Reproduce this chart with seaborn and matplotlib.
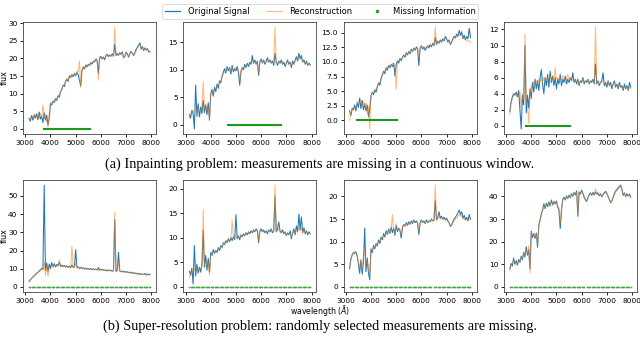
import numpy as np
import pandas as pd
import matplotlib
matplotlib.use("Agg")
import matplotlib.pyplot as plt
from matplotlib.ticker import MultipleLocator
from matplotlib.lines import Line2D
import seaborn as sns

# ---------------- data ----------------
WAVELENGTH = [3150, 3200, 3250, 3300, 3350, 3400, 3450, 3500, 3550, 3600,
              3650, 3700, 3750, 3800, 3850, 3900, 3950, 4000, 4050, 4100,
              4150, 4200, 4250, 4300, 4350, 4400, 4450, 4500, 4550, 4600,
              4650, 4700, 4750, 4800, 4850, 4900, 4950, 5000, 5050, 5100,
              5150, 5200, 5250, 5300, 5350, 5400, 5450, 5500, 5550, 5600,
              5650, 5700, 5750, 5800, 5850, 5900, 5950, 6000, 6050, 6100,
              6150, 6200, 6250, 6300, 6350, 6400, 6450, 6500, 6550, 6600,
              6650, 6700, 6750, 6800, 6850, 6900, 6950, 7000, 7050, 7100,
              7150, 7200, 7250, 7300, 7350, 7400, 7450, 7500, 7550, 7600,
              7650, 7700, 7750, 7800, 7850, 7900, 7950]

# (a) inpainting
P1_ORIG = [3.0, 2.2, 3.8, 2.5, 4.0, 3.1, 4.3, 2.6, 4.8, 2.8, 3.5, 1.8, 4.6, 2.5, 3.9, 1.2, 3.0, 7.2, 6.8, 7.9,
           7.5, 8.6, 8.1, 9.4, 9.0, 10.6, 11.2, 12.4, 12.0, 13.6, 14.1, 13.5, 15.0, 14.6, 15.3, 14.8, 15.6, 15.1, 16.0, 15.4,
           13.8, 12.2, 16.6, 17.5, 17.0, 18.1, 17.6, 18.3, 18.0, 18.8, 18.4, 19.2, 19.0, 19.8, 19.4, 15.8, 20.2, 20.6, 19.8, 20.4,
           19.6, 20.8, 21.2, 20.5, 21.0, 20.6, 21.3, 20.7, 24.0, 20.8, 21.4, 20.9, 21.6, 21.2, 21.9, 20.2, 20.6, 21.8, 21.3, 20.4,
           21.4, 22.0, 21.5, 20.8, 21.6, 22.6, 23.2, 23.8, 24.4, 22.6, 23.4, 22.2, 23.0, 22.4, 22.8, 21.8, 22.0]
P1_RECON = [2.6, 3.2, 3.0, 3.6, 3.2, 4.0, 3.4, 3.9, 3.0, 4.4, 3.2, 6.8, 3.4, 4.0, 2.2, 0.5, 4.5, 7.5, 7.4, 7.6,
            8.2, 8.0, 8.8, 9.2, 9.8, 10.4, 11.6, 12.0, 12.8, 13.2, 14.4, 14.0, 15.2, 15.0, 15.6, 15.4, 15.9, 15.6, 16.4, 16.2,
            19.3, 11.8, 16.8, 17.8, 17.4, 18.0, 18.2, 18.0, 18.6, 18.4, 18.9, 19.0, 19.5, 19.4, 19.9, 13.8, 19.8, 20.4, 20.2, 20.0,
            20.1, 20.5, 20.9, 20.7, 20.8, 20.9, 20.9, 20.5, 28.9, 21.0, 20.8, 21.2, 21.0, 21.4, 21.5, 20.6, 20.4, 21.6, 21.0, 20.8,
            21.2, 21.8, 21.3, 21.0, 21.4, 22.2, 22.9, 23.4, 23.8, 22.8, 23.0, 22.4, 22.6, 22.5, 22.3, 21.9, 21.7]

P2_ORIG = [1.8, 1.2, 2.6, 2.0, -0.8, 7.2, 1.5, 3.8, 1.4, 3.2, 2.0, 4.4, 2.2, 3.6, 1.8, 4.0, 0.8, 5.6, 6.4, 5.2,
           6.8, 6.0, 7.4, 6.6, 8.0, 7.6, 8.8, 9.6, 10.2, 9.4, 10.6, 9.8, 10.4, 9.2, 10.8, 9.6, 10.2, 9.8, 10.6, 9.4,
           7.2, 9.6, 10.4, 10.0, 11.0, 10.4, 11.2, 10.6, 11.4, 11.0, 12.6, 11.2, 11.8, 11.0, 11.6, 9.0, 11.4, 12.0, 11.2, 11.8,
           11.0, 11.6, 12.2, 11.4, 11.8, 11.2, 11.6, 10.8, 13.0, 11.4, 10.8, 11.6, 11.2, 11.8, 11.0, 11.4, 10.6, 11.2, 11.8, 11.0,
           11.4, 10.4, 11.6, 11.0, 11.8, 12.4, 11.6, 13.0, 12.0, 12.6, 11.4, 11.8, 11.0, 11.6, 10.8, 11.2, 10.9]
P2_RECON = [1.2, 2.0, 2.4, 2.6, 2.2, 2.8, 2.4, 3.0, 2.6, 2.4, 3.2, 7.8, 2.8, 3.4, 2.6, 3.0, 1.0, 5.8, 6.0, 6.2,
            6.4, 6.6, 6.8, 7.2, 7.6, 8.0, 8.6, 9.2, 9.6, 9.8, 10.0, 10.0, 10.2, 9.8, 10.2, 10.0, 10.2, 10.4, 10.4, 10.0,
            8.0, 9.8, 10.2, 10.6, 10.6, 10.8, 10.8, 11.0, 11.0, 11.2, 11.4, 11.4, 11.4, 11.2, 11.4, 9.6, 11.4, 11.6, 11.4, 11.6,
            11.4, 11.4, 11.6, 11.4, 11.6, 11.4, 11.4, 11.2, 17.8, 11.2, 11.2, 11.4, 11.2, 11.4, 11.2, 11.2, 11.0, 11.2, 11.4, 11.2,
            11.2, 10.8, 11.2, 11.2, 11.6, 11.8, 11.8, 12.2, 12.0, 12.0, 11.6, 11.4, 11.2, 11.4, 11.0, 11.0, 10.8]

P3_ORIG = [1.6, 0.8, 2.0, 1.8, 2.6, 1.6, 3.0, 2.2, 3.8, 2.0, 3.4, 1.8, 2.8, 1.6, 2.6, 0.6, 2.0, 4.2, 4.8, 4.4,
           5.2, 4.8, 5.8, 6.4, 6.0, 7.2, 7.8, 8.4, 8.0, 9.0, 8.6, 9.4, 9.0, 9.6, 9.2, 9.8, 7.6, 9.6, 10.2, 9.8,
           10.6, 10.2, 10.8, 11.2, 10.8, 11.6, 11.2, 11.8, 11.4, 12.2, 11.8, 12.4, 12.0, 12.6, 12.2, 9.4, 12.4, 12.8, 12.2, 12.6,
           12.0, 12.4, 12.8, 12.4, 13.0, 12.6, 13.2, 12.8, 14.2, 13.0, 13.6, 13.2, 13.8, 13.4, 14.0, 13.6, 14.4, 14.0, 13.4, 13.8,
           13.0, 13.4, 14.0, 14.4, 14.2, 14.8, 14.4, 15.4, 14.6, 15.2, 14.0, 14.6, 13.8, 14.4, 14.0, 15.8, 14.2]
P3_RECON = [0.0, 1.4, 1.6, 2.2, 2.0, 2.4, 2.6, 3.2, 2.8, 3.4, 2.6, 3.2, 2.4, 3.0, 1.2, 2.4, -1.5, 4.0, 4.6, 5.0,
            5.0, 5.4, 5.6, 6.2, 6.6, 7.0, 7.6, 8.2, 8.6, 8.8, 9.2, 9.2, 9.4, 9.4, 9.8, 9.6, 9.2, 5.3, 10.0, 10.2,
            10.4, 10.6, 10.8, 11.0, 11.2, 11.4, 11.4, 11.6, 11.8, 12.0, 12.0, 12.2, 12.2, 12.4, 12.4, 10.6, 12.4, 12.6, 12.6, 12.4,
            12.4, 12.6, 12.6, 12.8, 12.8, 12.8, 13.0, 12.8, 16.0, 13.2, 13.4, 13.4, 13.6, 13.6, 13.8, 13.8, 14.0, 13.8, 13.6, 13.6,
            13.2, 13.4, 13.8, 14.0, 14.0, 14.4, 14.4, 14.8, 14.6, 14.6, 14.2, 14.0, 13.8, 13.8, 13.6, 13.6, 13.4]

P4_ORIG = [1.8, 3.0, 3.6, 4.0, 3.8, 4.2, 3.6, 4.4, 2.0, -0.4, 3.8, 2.6, 10.0, 1.6, 3.8, 2.2, 4.6, 3.4, 5.4, 4.2,
           5.8, 4.6, 5.6, 4.4, 6.0, 7.0, 5.2, 4.0, 6.0, 5.0, 6.4, 4.8, 6.8, 5.4, 6.2, 5.0, 6.0, 4.6, 5.8, 5.2,
           6.4, 5.0, 5.8, 5.4, 6.2, 5.2, 5.8, 5.4, 6.0, 5.6, 6.6, 5.4, 5.8, 5.2, 5.8, 5.0, 5.6, 5.4, 6.0, 5.2,
           5.6, 5.4, 5.8, 5.2, 5.6, 5.4, 5.8, 5.2, 7.7, 5.2, 5.6, 5.0, 5.4, 5.6, 6.6, 5.0, 5.4, 4.8, 5.6, 5.0,
           5.4, 4.6, 5.2, 5.6, 4.8, 5.2, 4.6, 5.4, 4.8, 5.0, 4.4, 5.2, 4.6, 5.0, 4.4, 5.4, 4.8]
P4_RECON = [1.4, 2.8, 3.4, 3.8, 4.0, 3.8, 4.0, 3.6, 4.2, 2.2, 4.0, 3.2, 11.4, 3.4, 2.4, 0.3, 3.6, 5.0, 4.6, 5.4,
            5.0, 5.6, 5.2, 5.8, 5.6, 5.8, 5.4, 6.0, 5.6, 5.8, 6.0, 5.8, 6.2, 5.6, 6.0, 5.6, 7.2, 5.8, 6.0, 5.6,
            6.0, 5.8, 6.2, 5.8, 6.0, 5.8, 6.4, 5.8, 6.0, 5.6, 5.8, 5.6, 5.8, 5.4, 5.6, 5.2, 5.6, 5.6, 5.8, 5.4,
            5.6, 5.6, 5.6, 5.4, 5.6, 5.6, 5.6, 5.4, 12.3, 5.4, 5.4, 5.2, 5.4, 5.4, 5.6, 5.2, 5.4, 5.2, 5.4, 5.2,
            5.2, 5.0, 5.2, 5.4, 5.0, 5.2, 4.8, 5.0, 4.8, 4.8, 4.6, 4.8, 4.6, 4.8, 4.6, 4.8, 4.6]

# (b) super-resolution
P5_ORIG = [3.0, 4.0, 4.8, 5.4, 6.2, 6.8, 7.6, 8.0, 8.8, 9.4, 10.2, 9.6, 56.0, 9.0, 13.2, 8.4, 12.6, 10.4, 13.4, 11.2,
           12.8, 11.0, 12.4, 11.6, 13.6, 11.4, 12.0, 11.2, 11.8, 11.0, 11.6, 10.8, 11.4, 10.6, 12.0, 10.8, 11.2, 20.5, 10.6, 11.0,
           10.2, 10.8, 10.0, 10.6, 9.8, 10.4, 9.8, 10.2, 9.6, 10.2, 9.4, 10.0, 9.6, 9.8, 9.4, 10.6, 9.2, 9.8, 9.2, 9.6,
           9.0, 9.4, 8.8, 9.4, 9.0, 9.2, 8.6, 9.0, 37.0, 8.6, 9.0, 19.0, 8.8, 8.4, 8.8, 8.2, 8.6, 8.0, 8.4, 7.8,
           8.2, 7.6, 8.0, 7.4, 7.8, 7.2, 7.6, 7.0, 7.4, 6.8, 7.2, 6.8, 7.4, 6.6, 7.2, 6.8, 7.0]
P5_RECON = [3.2, 3.8, 4.6, 5.2, 6.0, 6.6, 7.2, 7.8, 8.6, 9.0, 10.0, 9.4, 14.0, 6.2, 11.4, 6.0, 10.8, 9.6, 11.6, 10.8,
            11.8, 11.2, 11.6, 11.4, 15.0, 11.0, 11.4, 11.0, 11.4, 10.8, 11.0, 10.8, 11.0, 10.4, 22.5, 10.4, 10.8, 13.0, 10.4, 10.6,
            10.2, 10.4, 10.0, 10.2, 9.8, 10.0, 9.8, 9.8, 9.6, 9.8, 9.4, 9.6, 9.4, 9.6, 9.4, 9.2, 9.2, 9.4, 9.2, 9.2,
            9.0, 9.2, 8.8, 9.0, 8.8, 9.0, 8.6, 8.8, 41.0, 8.6, 8.8, 14.0, 8.6, 8.4, 8.4, 8.2, 8.2, 8.0, 8.0, 7.8,
            7.8, 7.6, 7.6, 7.4, 7.4, 7.2, 7.2, 7.0, 7.0, 6.8, 6.8, 6.8, 6.8, 6.6, 6.6, 6.6, 6.6]

P6_ORIG = [3.2, 2.4, 3.8, 0.6, 8.4, 2.2, 4.6, 2.8, 4.0, 3.0, 4.4, 11.5, 4.0, 6.4, 3.4, 5.8, 3.0, 7.0, 6.4, 7.6,
           6.8, 7.4, 7.0, 8.0, 7.4, 8.4, 8.0, 9.0, 8.6, 9.4, 9.0, 9.8, 9.2, 10.0, 9.4, 10.2, 9.6, 14.7, 9.8, 10.4,
           9.6, 10.6, 10.2, 10.8, 10.4, 11.0, 10.6, 11.2, 10.8, 11.4, 11.0, 11.6, 11.2, 11.8, 11.4, 9.0, 11.4, 11.8, 11.2, 11.6,
           11.0, 11.4, 10.8, 11.6, 11.2, 11.8, 11.0, 11.4, 18.5, 11.2, 11.8, 13.2, 11.4, 11.0, 11.6, 10.8, 11.2, 10.4, 11.0, 10.6,
           11.4, 9.8, 11.0, 11.8, 10.6, 12.4, 11.2, 14.8, 11.6, 14.2, 11.0, 12.0, 10.8, 11.4, 10.6, 11.2, 10.8]
P6_RECON = [2.0, 2.6, 3.0, 3.2, 3.6, 3.0, 3.8, 3.4, 3.6, 3.8, 4.2, 15.7, 4.6, 5.2, 4.4, 5.0, 2.4, 6.6, 6.8, 7.0,
            7.0, 7.2, 7.4, 7.6, 7.8, 8.2, 8.4, 8.8, 9.0, 9.2, 9.4, 9.6, 9.6, 9.8, 13.5, 9.8, 10.0, 10.6, 10.2, 10.2,
            10.0, 10.4, 10.4, 10.6, 10.6, 10.8, 10.8, 11.0, 11.0, 11.2, 11.2, 11.2, 11.4, 11.4, 11.4, 9.4, 11.2, 11.4, 11.4, 11.2,
            11.2, 11.2, 11.2, 11.4, 11.2, 11.4, 11.2, 11.2, 20.7, 11.2, 11.4, 11.8, 11.2, 11.0, 11.2, 11.0, 11.0, 10.6, 10.8, 10.6,
            10.8, 10.2, 10.8, 11.2, 10.8, 11.6, 11.2, 12.4, 11.4, 12.0, 11.0, 11.4, 11.0, 11.2, 10.8, 11.0, 10.8]

P7_ORIG = [4.0, 6.2, 7.0, 7.6, 7.4, 7.8, 6.8, 5.2, 3.0, 6.0, 2.8, 5.6, 13.0, 3.4, 6.4, 3.0, 1.6, 8.4, 7.6, 9.2,
           8.4, 9.6, 9.0, 10.4, 9.6, 11.0, 10.4, 11.8, 11.0, 12.4, 11.6, 12.8, 11.8, 13.2, 12.0, 13.0, 11.4, 13.6, 12.2, 13.0,
           12.4, 10.8, 13.2, 13.8, 13.4, 14.2, 13.6, 14.4, 13.8, 14.6, 14.0, 14.8, 14.2, 14.6, 14.0, 11.6, 14.2, 14.8, 14.2, 14.6,
           14.0, 14.8, 14.2, 14.6, 14.4, 15.0, 14.6, 14.8, 19.0, 14.8, 15.4, 16.6, 15.2, 15.6, 15.0, 15.4, 14.8, 15.2, 14.6, 14.2,
           13.4, 13.6, 14.4, 15.0, 15.4, 15.8, 16.4, 17.0, 16.0, 16.6, 15.2, 15.8, 14.8, 15.4, 14.6, 16.0, 15.0]
P7_RECON = [4.4, 6.0, 7.2, 7.4, 7.8, 7.6, 7.0, 5.6, 4.4, 5.2, 4.0, 6.8, 8.0, 5.0, 5.6, 4.6, 2.6, 8.0, 8.2, 8.8,
            8.8, 9.2, 9.4, 10.0, 10.0, 10.6, 10.8, 11.4, 11.4, 12.0, 12.0, 12.4, 12.2, 12.8, 16.0, 12.6, 12.0, 14.0, 12.6, 12.8,
            12.6, 11.6, 13.2, 13.6, 13.6, 13.8, 13.8, 14.0, 14.0, 14.2, 14.2, 14.4, 14.4, 14.4, 14.2, 12.4, 14.2, 14.4, 14.4, 14.4,
            14.2, 14.4, 14.4, 14.4, 14.6, 14.6, 14.6, 14.6, 22.5, 14.8, 15.0, 15.8, 15.0, 15.2, 15.0, 15.0, 14.8, 14.8, 14.4, 14.2,
            13.6, 13.8, 14.2, 14.6, 15.0, 15.2, 15.6, 16.0, 15.6, 15.8, 15.0, 15.2, 14.8, 15.0, 14.6, 15.0, 14.8]

P8_ORIG = [8.0, 10.4, 9.2, 12.8, 10.0, 11.6, 9.6, 12.2, 10.8, 13.6, 12.0, 15.4, 13.2, 17.8, 14.0, 16.4, 8.0, 24.6, 21.8, 23.6,
           21.4, 23.8, 17.6, 27.4, 29.6, 32.4, 34.0, 36.8, 34.6, 37.0, 35.4, 37.6, 35.8, 38.4, 36.2, 37.8, 36.6, 38.0, 35.2, 34.0,
           25.8, 33.6, 38.8, 39.6, 38.4, 40.2, 39.0, 40.6, 39.4, 41.2, 40.0, 41.8, 40.6, 42.4, 31.2, 42.0, 41.0, 42.8, 41.4, 39.6,
           38.4, 37.8, 39.6, 40.8, 41.6, 40.4, 41.8, 40.6, 42.0, 41.0, 41.6, 40.2, 41.2, 39.8, 40.8, 41.6, 42.2, 41.4, 40.0, 38.6,
           37.2, 38.0, 39.6, 41.2, 42.4, 43.0, 43.8, 44.4, 45.0, 43.2, 40.4, 41.6, 39.8, 41.2, 40.2, 41.0, 39.6]
P8_RECON = [7.2, 9.6, 10.2, 11.8, 10.6, 10.8, 10.4, 11.6, 11.4, 12.8, 12.6, 14.6, 14.0, 16.6, 14.8, 18.2, 6.2, 23.8, 22.4, 23.0,
            22.0, 23.2, 19.0, 26.6, 29.2, 32.0, 33.6, 35.8, 35.0, 36.4, 35.8, 37.0, 36.2, 37.6, 36.8, 37.4, 37.0, 37.6, 36.0, 34.6,
            28.0, 34.4, 38.4, 39.2, 38.8, 39.8, 39.4, 40.2, 39.8, 40.6, 40.4, 41.2, 41.0, 41.8, 33.0, 41.6, 41.4, 42.2, 41.2, 40.0,
            38.8, 38.4, 39.4, 40.4, 41.0, 40.8, 41.2, 40.8, 43.4, 41.0, 41.2, 40.6, 40.8, 40.2, 40.6, 41.2, 41.6, 41.2, 40.2, 38.8,
            37.6, 38.2, 39.4, 40.8, 41.8, 42.6, 43.2, 43.8, 44.4, 42.8, 40.6, 41.2, 40.0, 40.8, 40.2, 40.4, 39.4]

ORIGINALS = [P1_ORIG, P2_ORIG, P3_ORIG, P4_ORIG, P5_ORIG, P6_ORIG, P7_ORIG, P8_ORIG]
RECONS = [P1_RECON, P2_RECON, P3_RECON, P4_RECON, P5_RECON, P6_RECON, P7_RECON, P8_RECON]

# missing-information window (top row): start / end wavelength
WINDOW_START = [3750, 4700, 3450, 3800]
WINDOW_END = [5550, 6800, 5050, 5550]
# super-resolution (bottom row): wavelengths not marked as missing (gaps)
SR_GAPS = [[], [], [6450], [6150]]

YTICK_STEP = [5, 5, 2.5, 2, 10, 5, 5, 10]

LEGEND_LABELS = ["Original Signal", "Reconstruction", "Missing Information"]
CAPTION_A = "(a) Inpainting problem: measurements are missing in a continuous window."
CAPTION_B = "(b) Super-resolution problem: randomly selected measurements are missing."

# ---------------- plotting ----------------
BLUE, ORANGE, GREEN = "#1f77b4", "#ff7f0e", "#2ca02c"
plt.rcParams["font.family"] = ["DejaVu Sans"]
plt.rcParams["axes.linewidth"] = 0.6

fig, axes = plt.subplots(2, 4, figsize=(6.4, 3.38), dpi=100)
fig.subplots_adjust(left=0.036, right=0.995, top=0.935, bottom=0.136,
                    wspace=0.205, hspace=0.41)

wl = np.array(WAVELENGTH)
for k, ax in enumerate(axes.flat):
    df = pd.DataFrame({"wavelength": wl, "orig": ORIGINALS[k], "recon": RECONS[k]})
    sns.lineplot(data=df, x="wavelength", y="orig", ax=ax, color=BLUE,
                 linewidth=0.75, estimator=None, sort=False)
    sns.lineplot(data=df, x="wavelength", y="recon", ax=ax, color=ORANGE,
                 linewidth=0.75, alpha=0.55, estimator=None, sort=False)
    if k < 4:
        wdf = pd.DataFrame({"wavelength": [WINDOW_START[k], WINDOW_END[k]], "flux": [0.0, 0.0]})
        sns.lineplot(data=wdf, x="wavelength", y="flux", ax=ax, color="#1a9a1a",
                     linewidth=1.5, estimator=None, sort=False, zorder=3)
    else:
        miss = np.array([w for w in wl if w not in SR_GAPS[k - 4]])
        mdf = pd.DataFrame({"wavelength": miss, "flux": np.zeros(len(miss))})
        sns.scatterplot(data=mdf, x="wavelength", y="flux", ax=ax, color=GREEN,
                        s=1.6, linewidth=0, alpha=0.85, zorder=3)
    ax.xaxis.set_major_locator(MultipleLocator(1000))
    ax.yaxis.set_major_locator(MultipleLocator(YTICK_STEP[k]))
    ax.tick_params(labelsize=5.3, length=2.5, width=0.6, pad=1.5)
    ax.set_xlabel("")
    if k % 4 == 0:
        ax.set_ylabel("flux", fontsize=5.8)
        ax.yaxis.set_label_coords(-0.108, 0.5)
    else:
        ax.set_ylabel("")
    for sp in ax.spines.values():
        sp.set_color("#444444")

handles = [Line2D([], [], color=BLUE, linewidth=0.9),
           Line2D([], [], color=ORANGE, linewidth=0.9, alpha=0.5),
           Line2D([], [], color=GREEN, linestyle="none", marker="o", markersize=1.6)]
leg = fig.legend(handles, LEGEND_LABELS, loc="upper center", bbox_to_anchor=(0.5, 1.0),
                 ncol=3, fontsize=6, handlelength=1.9, handletextpad=0.9,
                 columnspacing=2.0, frameon=True, borderpad=0.35)
leg.get_frame().set_linewidth(0.6)

fig.text(0.5, 0.081, "wavelength ($\\AA$)", ha="center", va="center", fontsize=5.6)
fig.text(0.5, 0.515, CAPTION_A, ha="center", va="center",
         fontsize=10.3, family="Liberation Serif")
fig.text(0.5, 0.036, CAPTION_B, ha="center", va="center",
         fontsize=10.3, family="Liberation Serif")

fig.savefig("out.png", dpi=100)
